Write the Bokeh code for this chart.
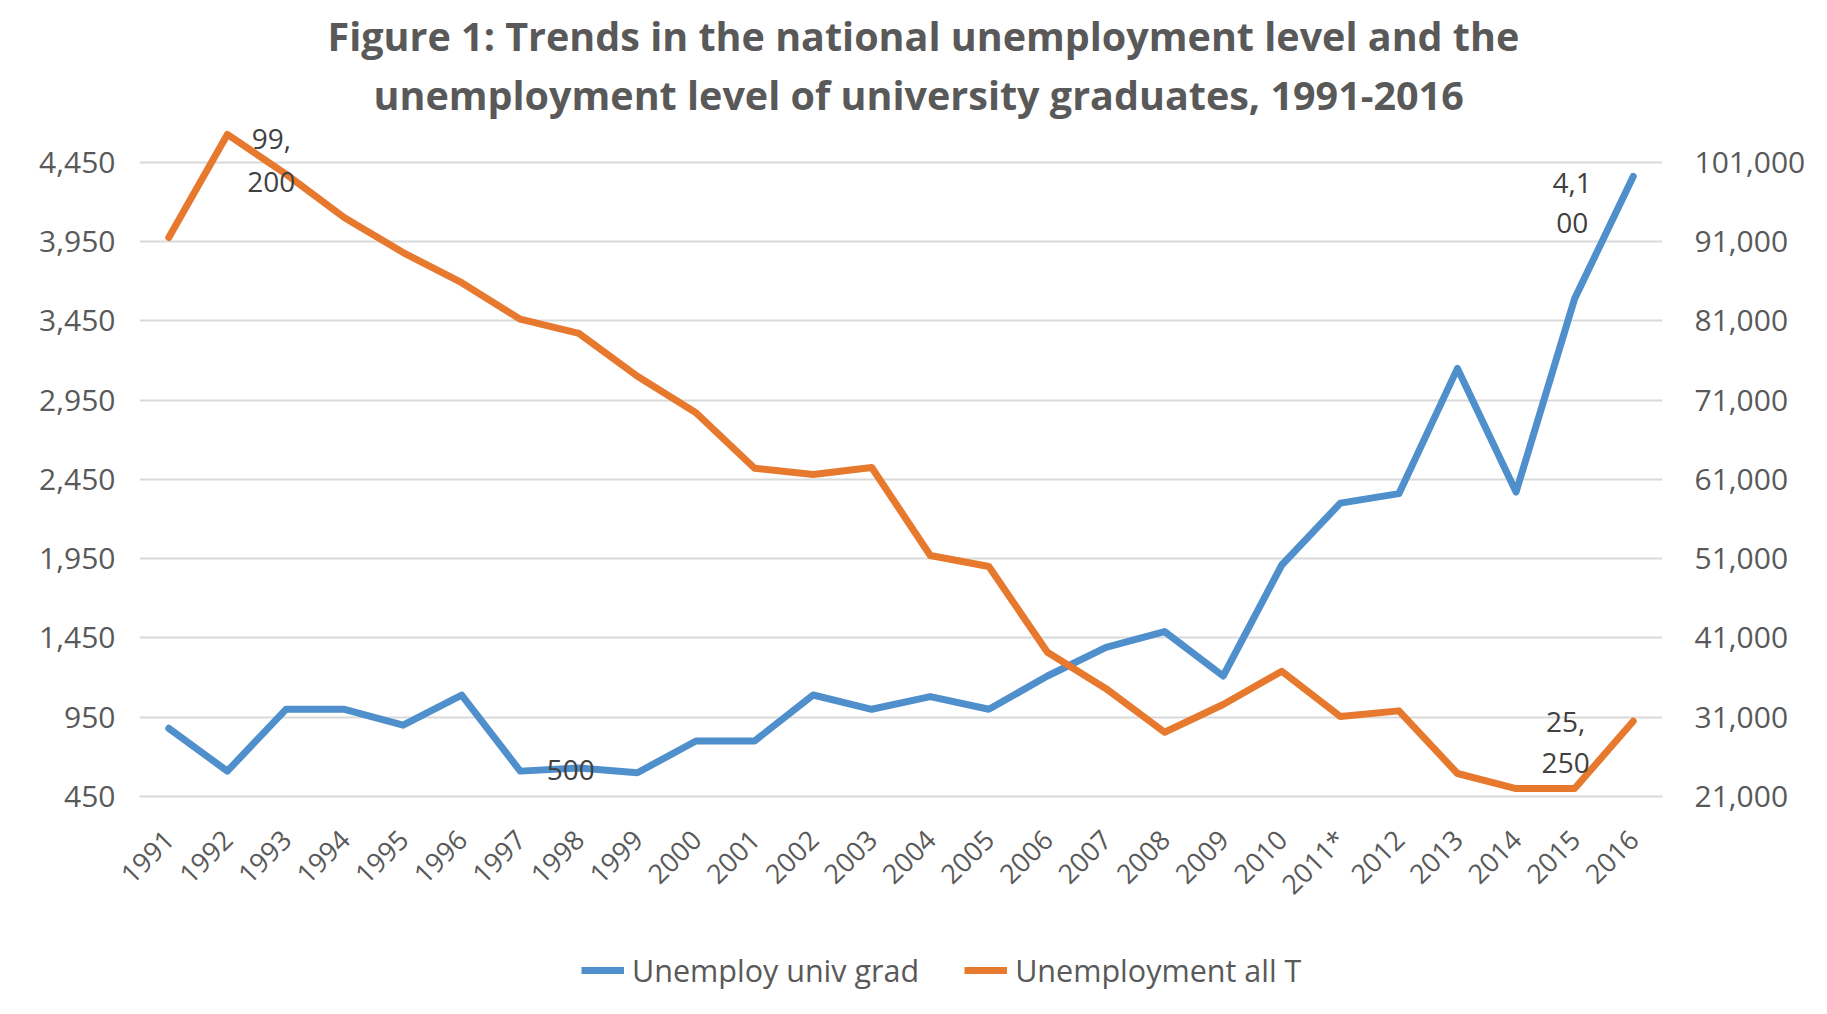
from math import pi
from bokeh.plotting import figure
from bokeh.layouts import column
from bokeh.models import (FactorRange, Range1d, LinearAxis, FixedTicker, NumeralTickFormatter,
                          Title, Legend, LegendItem, ColumnDataSource)
from bokeh.core.properties import value
from bokeh.embed import file_html
from bokeh.resources import INLINE

# ---------------- data ----------------
years = ["1991", "1992", "1993", "1994", "1995", "1996", "1997", "1998", "1999", "2000",
         "2001", "2002", "2003", "2004", "2005", "2006", "2007", "2008", "2009", "2010",
         "2011*", "2012", "2013", "2014", "2015", "2016"]
grad_unemployed = [880, 610, 1000, 1000, 900, 1090, 610, 630, 600, 800,
                   800, 1090, 1000, 1080, 1000, 1210, 1390, 1490, 1210, 1910,
                   2300, 2360, 3150, 2370, 3590, 4360]
all_unemployed = [91500, 104500, 99500, 94000, 89600, 85800, 81200, 79400, 74000, 69400,
                  62400, 61600, 62500, 51400, 50000, 39200, 34600, 29100, 32600, 36800,
                  31100, 31800, 23900, 22000, 22000, 30500]
left_ticks = [450, 950, 1450, 1950, 2450, 2950, 3450, 3950, 4450]
right_ticks = [21000, 31000, 41000, 51000, 61000, 71000, 81000, 91000, 101000]
title_lines = ["Figure 1: Trends in the national unemployment level and the",
               "unemployment level of university graduates, 1991-2016"]
series_names = ["Unemploy univ grad", "Unemployment all T"]

# data labels shown on the chart
label_texts = ["99,", "200", "500", "4,1", "00", "25,", "250"]
label_years = ["1992", "1992", "1998", "2016", "2016", "2015", "2015"]
label_series = ["all", "all", "grad", "grad", "grad", "all", "all"]

# ---------------- styles ----------------
BLUE = "#4f8fcc"
ORANGE = "#e7792f"
GRID = "#d9d9d9"
TEXT = "#595959"
LABEL = "#404040"
label_dx = [44, 44, -8, -61, -61, -9, -9]
label_dy = [5, 48, 2, 6, 46, -67, -26]   # screen px, downward positive

fig = figure(width=1827, height=926,
             x_range=FactorRange(*years, range_padding=0),
             y_range=Range1d(450, 4707),
             output_backend="svg", toolbar_location=None,
             min_border_left=139, min_border_right=165,
             min_border_top=121, min_border_bottom=130)
fig.extra_y_ranges = {"right": Range1d(21000, 106131)}
fig.outline_line_color = None
fig.background_fill_color = "white"
fig.border_fill_color = "white"

# left axis
ya = fig.yaxis[0]
ya.ticker = FixedTicker(ticks=left_ticks)
ya.formatter = NumeralTickFormatter(format="0,0")
ya.axis_line_color = None
ya.major_tick_line_color = None
ya.minor_tick_line_color = None
ya.major_label_standoff = 18
ya.major_label_text_font = "Open Sans"
ya.major_label_text_font_size = "30px"
ya.major_label_text_color = TEXT

# right axis
ra = LinearAxis(y_range_name="right", ticker=FixedTicker(ticks=right_ticks),
                formatter=NumeralTickFormatter(format="0,0"))
ra.axis_line_color = None
ra.major_tick_line_color = None
ra.minor_tick_line_color = None
ra.major_label_standoff = 26
ra.major_label_text_font = "Open Sans"
ra.major_label_text_font_size = "30px"
ra.major_label_text_color = TEXT
fig.add_layout(ra, "right")

# x axis
xa = fig.xaxis[0]
xa.major_label_orientation = pi / 4
xa.major_label_text_font = "Open Sans"
xa.major_label_text_font_size = "27px"
xa.major_label_text_color = TEXT
xa.major_label_standoff = 32
xa.major_tick_line_color = None
xa.minor_tick_line_color = None
xa.axis_line_color = GRID
xa.axis_line_width = 2

fig.xgrid.grid_line_color = None
fig.ygrid.ticker = FixedTicker(ticks=left_ticks)
fig.ygrid.grid_line_color = GRID
fig.ygrid.grid_line_width = 2

# lines
src = ColumnDataSource(dict(year=years, grad=grad_unemployed, all=all_unemployed))
fig.line("year", "grad", source=src, line_color=BLUE, line_width=7,
         line_join="round", line_cap="round")
fig.line("year", "all", source=src, line_color=ORANGE, line_width=7,
         line_join="round", line_cap="round", y_range_name="right")

# data labels
for series, rng in (("grad", "default"), ("all", "right")):
    idx = [i for i, s in enumerate(label_series) if s == series]
    vals = grad_unemployed if series == "grad" else all_unemployed
    d = dict(x=[label_years[i] for i in idx],
             y=[vals[years.index(label_years[i])] for i in idx],
             t=[label_texts[i] for i in idx],
             dx=[label_dx[i] for i in idx],
             dy=[label_dy[i] for i in idx])
    kw = {} if rng == "default" else {"y_range_name": "right"}
    fig.text("x", "y", text="t", x_offset="dx", y_offset="dy",
             source=ColumnDataSource(d), text_align="center", text_baseline="middle",
             text_font=value("Open Sans"), text_font_size="28px", text_color=LABEL, **kw)

# title (two lines)
fig.add_layout(Title(text=title_lines[1], align="left", offset=234, text_font="Open Sans",
                     text_font_size="39.5px", text_font_style="bold", text_color=TEXT,
                     standoff=0), "above")
fig.add_layout(Title(text=title_lines[0], align="left", offset=188, text_font="Open Sans",
                     text_font_size="39.5px", text_font_style="bold", text_color=TEXT,
                     standoff=6), "above")

# legend strip (separate small figure under the chart; its frame aligns with the chart's)
leg = figure(width=1827, height=86, x_range=Range1d(0, 1), y_range=Range1d(0, 1),
             x_axis_type=None, y_axis_type=None, output_backend="svg",
             toolbar_location=None, min_border=0)
leg.outline_line_color = None
leg.grid.visible = False
nan = float("nan")
lg_grad = leg.line(x=[0, 1], y=[nan, nan], line_color=BLUE, line_width=7)
lg_all = leg.line(x=[0, 1], y=[nan, nan], line_color=ORANGE, line_width=7)
legend = Legend(items=[LegendItem(label=series_names[0], renderers=[lg_grad]),
                       LegendItem(label=series_names[1], renderers=[lg_all])],
                orientation="horizontal", location=(442, 21),
                label_text_font="Open Sans", label_text_font_size="30.5px",
                label_text_color=TEXT, glyph_width=43, glyph_height=20,
                label_standoff=8, spacing=45, padding=4, margin=0,
                border_line_color=None, background_fill_alpha=0)
leg.add_layout(legend, "center")

layout = column(fig, leg, spacing=0)
open("out.html", "w").write(file_html(layout, INLINE))
